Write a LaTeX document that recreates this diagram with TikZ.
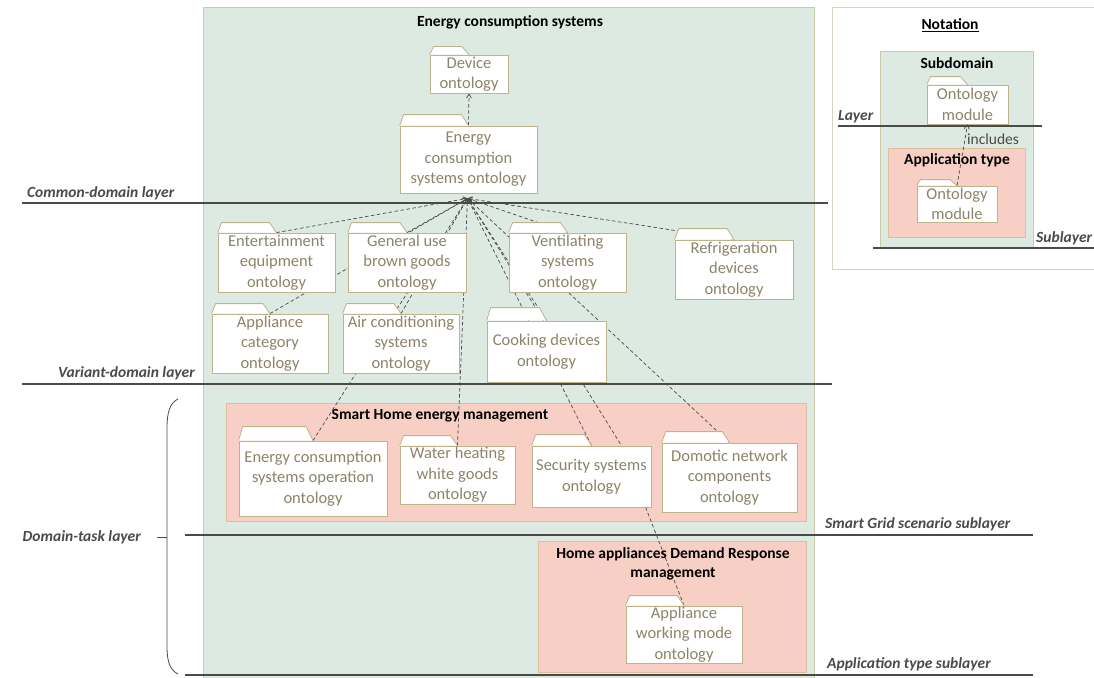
\documentclass[tikz,border=0pt]{standalone}
\usepackage{fontspec}
\setmainfont{Carlito}
\usetikzlibrary{arrows.meta,calc}
\definecolor{greenbg}{HTML}{DCEAE2}
\definecolor{greenbd}{HTML}{C9CBA6}
\definecolor{pinkbg}{HTML}{F8CFC5}
\definecolor{pinkbd}{HTML}{DDBF9E}
\definecolor{modbd}{HTML}{BDB38C}
\definecolor{modtx}{HTML}{8C8468}
\definecolor{linec}{HTML}{4A4A4A}
\definecolor{notebd}{HTML}{D9D3B9}
\pgfdeclarelayer{bg}\pgfdeclarelayer{conn}\pgfsetlayers{bg,conn,main}
\tikzset{
  modbox/.style={draw=modbd, line width=0.8pt, fill=white, inner sep=0pt, text=modtx,
    align=center, font=\fontsize{16.5}{20.5}\selectfont},
  tabst/.style={draw=modbd, line width=0.8pt, fill=white},
  panelgreen/.style={draw=greenbd, line width=1pt, fill=greenbg},
  panelpink/.style={draw=pinkbd, line width=1pt, fill=pinkbg},
  ptitle/.style={font=\fontsize{15.5}{18}\selectfont\bfseries, text=black, align=center, inner sep=0pt},
  laylabel/.style={font=\fontsize{15.5}{18}\selectfont\bfseries\itshape, text=linec, inner sep=0pt},
  layerline/.style={draw=linec, line width=1.3pt},
  dep/.style={draw=linec, line width=0.7pt, dash pattern=on 3.5pt off 2.5pt,
    -{Straight Barb[length=4pt,width=5pt]}},
}
% #1 name, #2 x1, #3 ytab, #4 ybody, #5 x2, #6 ybottom, #7 text
\newcommand\ontmod[7]{%
  \node[modbox, minimum width={#5-#2}, minimum height={#6-#4}] (#1) at ({(#2+#5)/2},{(#4+#6)/2}) {#7};
  \draw[tabst] (#1.north west) -- ++(4,{#3-#4}) -- ($(#1.north)+(-7,{#3-#4})$) -- (#1.north);
}
\begin{document}
\begin{tikzpicture}[x=1pt,y=-1pt]
\useasboundingbox (0,0) rectangle (1094,677);

% panels
\begin{pgfonlayer}{bg}
\fill[white] (0,0) rectangle (1094,677);
\draw[panelgreen] (203,8) rectangle (814,684);
\draw[panelpink] (226,403) rectangle (806,521);
\draw[panelpink] (538,541) rectangle (806,672);
\draw[draw=notebd, line width=1pt, fill=white] (832,8) rectangle (1100,269);
\draw[panelgreen] (880,52) rectangle (1033,247);
\draw[panelpink] (888,148) rectangle (1025,237);
\end{pgfonlayer}

% titles
\node[ptitle] (tEcs) at (510,22) {Energy consumption systems};
\node[ptitle] (tSh) at (440,416) {Smart Home energy management};
\node[ptitle, font=\fontsize{15.5}{18.5}\selectfont\bfseries] (tDr) at (673,564) {Home appliances Demand Response\\management};
\node[ptitle] (tNot) at (950,25) {\underline{Notation}};
\node[ptitle] (tSub) at (957,63) {Subdomain};
\node[ptitle] (tApp) at (957,160) {Application type};
\node[inner sep=0pt, text=linec, font=\fontsize{15.5}{18}\selectfont] (tInc) at (993,139) {includes};

% modules
\ontmod{dev}{430}{47}{55}{508}{93}{Device\\ontology}
\ontmod{ecso}{400}{115}{126}{537}{193}{Energy\\consumption\\systems ontology}
\ontmod{ent}{218}{223}{233}{335}{292}{Entertainment\\equipment\\ontology}
\ontmod{gen}{348}{223}{233}{466}{292}{General use\\brown goods\\ontology}
\ontmod{vent}{509}{223}{233}{626}{292}{Ventilating\\systems\\ontology}
\ontmod{refr}{675}{229}{240}{793}{299}{Refrigeration\\devices\\ontology}
\ontmod{appc}{212}{304}{314}{328}{373}{Appliance\\category\\ontology}
\ontmod{air}{343}{304}{314}{459}{373}{Air conditioning\\systems\\ontology}
\ontmod{cook}{487}{308}{321}{606}{382}{Cooking devices\\ontology}
\ontmod{ecsoo}{239}{427}{441}{387}{516}{Energy consumption\\systems operation\\ontology}
\ontmod{water}{400}{436}{446}{515}{504}{Water heating\\white goods\\ontology}
\ontmod{sec}{532}{435}{446}{651}{507}{Security systems\\ontology}
\ontmod{dom}{662}{432}{443}{797}{512}{Domotic network\\components\\ontology}
\ontmod{awm}{626}{596}{606}{742}{663}{Appliance\\working mode\\ontology}
\ontmod{nup}{927}{77}{85}{1008}{124}{Ontology\\module}
\ontmod{nlow}{917}{180}{186}{997}{222}{Ontology\\module}

% connectors
\coordinate (hub) at ($(ecso.south)+(-1,5)$);
\coordinate (bend) at ($(sec.north)!0.5!(sec.north east)$);
\begin{pgfonlayer}{conn}
\draw[dep] (ecso.north) -- (dev.south);
\draw[dep] (ent.north) -- (hub);
\draw[dep] (gen.north) -- (hub);
\draw[dep] (appc.north) -- (hub);
\draw[dep] (air.north) -- (hub);
\draw[dep] (vent.north) -- (hub);
\draw[dep] (refr.north) -- (hub);
\draw[dep] (cook.north) -- (hub);
\draw[dep] (ecsoo.north) -- (hub);
\draw[dep] (water.north) -- (hub);
\draw[dep] (sec.north) -- (hub);
\draw[dep] (dom.north) -- (hub);
\draw[dep] (awm.north) -- (bend) -- (hub);
\end{pgfonlayer}
\draw[dep] (nlow.north) -- (nup.south);

% layer lines
\draw[layerline] (22,203) -- (828,203);
\draw[layerline] (22,384) -- (832,384);
\draw[layerline] (185,535) -- (1033,535);
\draw[layerline] (185,675) -- (1033,675);
\draw[layerline] (838,126) -- (1042,126);
\draw[layerline] (873,248) -- (1100,248);

% brace
\draw[draw=linec, line width=0.8pt] (178,399) .. controls (170,403) and (167,412) .. (167,428)
  -- (167,646) .. controls (167,662) and (170,670) .. (178,674);
\draw[draw=linec, line width=0.8pt] (157,537) -- (167,537);

% layer labels
\node[laylabel, anchor=south west] (lCom) at (27,200) {Common-domain layer};
\node[laylabel, anchor=south east] (lVar) at (195,380) {Variant-domain layer};
\node[laylabel, anchor=east] (lDom) at (141,537) {Domain-task layer};
\node[laylabel, anchor=south west] (lSg) at (825,531) {Smart Grid scenario sublayer};
\node[laylabel, anchor=south west] (lAt) at (827,671) {Application type sublayer};
\node[laylabel, anchor=south west] (lLay) at (838,123) {Layer};
\node[laylabel, anchor=south west] (lSubl) at (1036,245) {Sublayer};
\end{tikzpicture}
\end{document}
